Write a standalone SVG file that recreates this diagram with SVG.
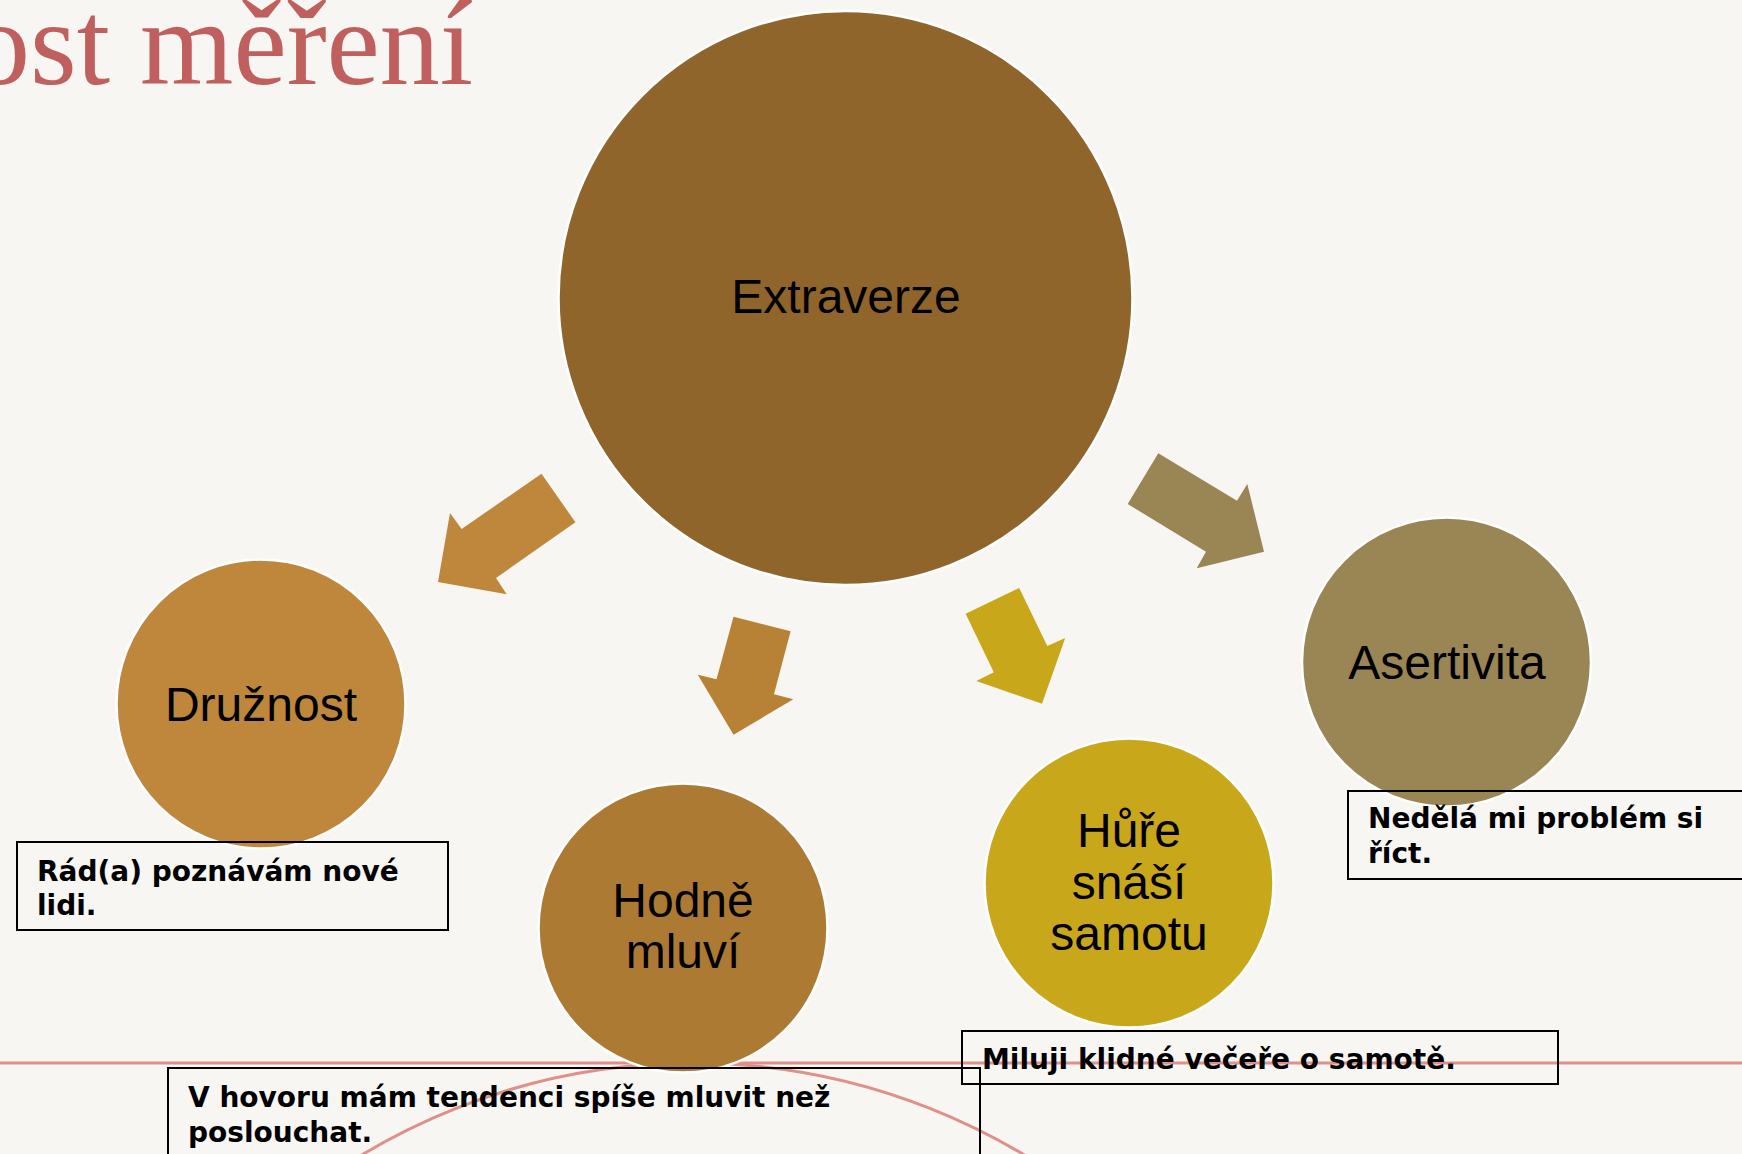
<svg xmlns="http://www.w3.org/2000/svg" width="1742" height="1154" viewBox="0 0 1742 1154">
<style>
.lbl{font-family:"Liberation Sans",Arial,sans-serif;font-size:48px;fill:#000;text-anchor:middle}
.note{font-family:"DejaVu Sans",sans-serif;font-weight:bold;font-size:28px;fill:#000}
.box{fill:none;stroke:#000;stroke-width:2}
.node{stroke:#fff;stroke-width:2.5}
.deco{fill:none;stroke:#E0908A;stroke-width:3}
</style>
<rect width="1742" height="1154" fill="#F7F6F2"/>
<g id="decor">
<line class="deco" x1="0" y1="1063" x2="1742" y2="1063"/>
<circle class="deco" cx="693" cy="1705" r="642"/>
<text x="-30" y="84" font-family="'Liberation Serif','Times New Roman',serif" font-size="120" fill="#C0605E">ost měření</text>
</g>
<g id="connectors">
<polygon fill="#BF873B" points="541.5,473.7 575.4,522.3 496,578 506.7,594.3 438,582 450,513 461.6,529"/>
<polygon fill="#B88236" points="733.5,616.7 790.6,631.3 774,694.3 793.3,699.3 733.5,734.7 697.8,674.7 716.5,679.3"/>
<polygon fill="#C9A71B" points="1019.2,588 1047.3,646 1065.2,638 1042,703.7 976.3,681 993.8,672.3 965.6,613.7"/>
<polygon fill="#9A8654" points="1158.3,453.3 1237,500.7 1247.3,484 1264,551.7 1196.7,568.3 1206,551.7 1127.7,504"/>
</g>
<g id="extraverze">
<circle class="node" cx="845.5" cy="298" r="287" fill="#8F652C"/>
<text class="lbl" x="846" y="313">Extraverze</text>
</g>
<g id="druznost">
<circle class="node" cx="261" cy="704" r="144.5" fill="#BF873B"/>
<text class="lbl" x="261" y="721">Družnost</text>
</g>
<g id="hodne-mluvi">
<circle class="node" cx="683" cy="928" r="144.5" fill="#AD7A34"/>
<text class="lbl" x="683" y="917">Hodně</text>
<text class="lbl" x="683" y="968">mluví</text>
</g>
<g id="hure-snasi-samotu">
<circle class="node" cx="1129" cy="883" r="144.5" fill="#C9A71B"/>
<text class="lbl" x="1129" y="847">Hůře</text>
<text class="lbl" x="1129" y="899">snáší</text>
<text class="lbl" x="1129" y="950">samotu</text>
</g>
<g id="asertivita">
<circle class="node" cx="1446.5" cy="662" r="144.5" fill="#9A8654"/>
<text class="lbl" x="1447" y="679">Asertivita</text>
</g>
<g id="note-druznost">
<rect class="box" x="17" y="842" width="431" height="88"/>
<text class="note" x="37" y="881">Rád(a) poznávám nové</text>
<text class="note" x="37" y="915">lidi.</text>
</g>
<g id="note-hodne">
<rect class="box" x="168" y="1068" width="812" height="100"/>
<text class="note" x="188" y="1107">V hovoru mám tendenci spíše mluvit než</text>
<text class="note" x="188" y="1142">poslouchat.</text>
</g>
<g id="note-hure">
<rect class="box" x="962" y="1031" width="596" height="53"/>
<text class="note" x="982" y="1069">Miluji klidné večeře o samotě.</text>
</g>
<g id="note-asertivita">
<rect class="box" x="1348" y="791" width="420" height="88"/>
<text class="note" x="1368" y="828">Nedělá mi problém si</text>
<text class="note" x="1368" y="863">říct.</text>
</g>
</svg>
